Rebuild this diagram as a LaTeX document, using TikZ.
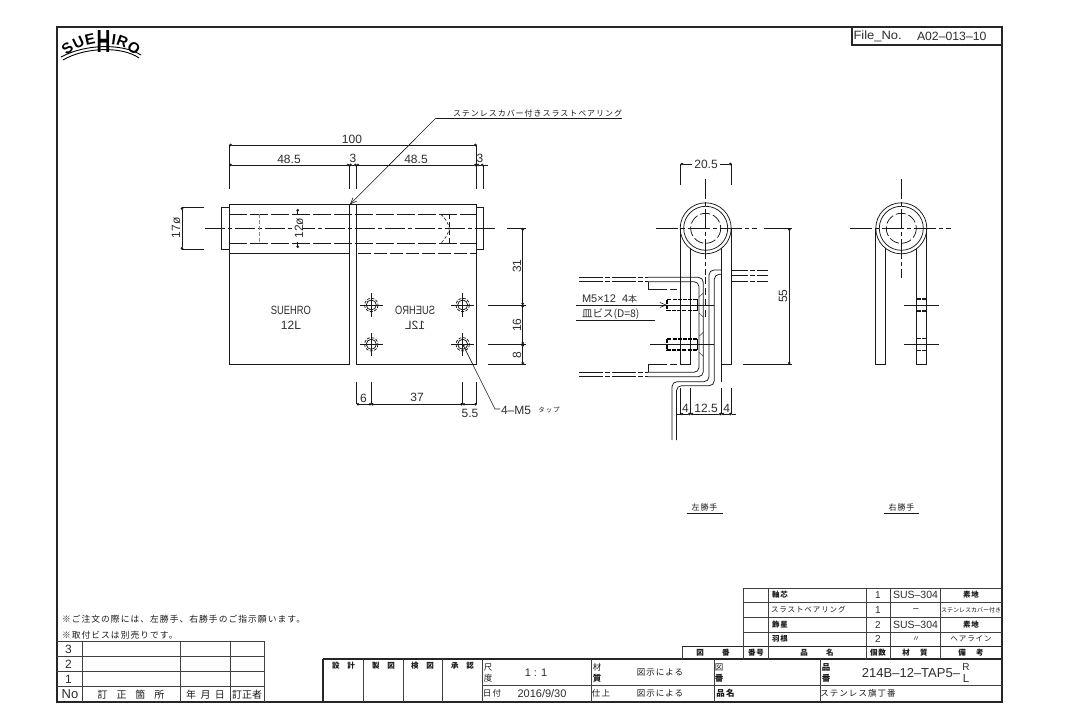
\documentclass[tikz,border=0pt]{standalone}
\usepackage{fontspec}
\setmainfont{Liberation Sans}
\newfontfamily\cjk[LetterSpace=12]{Noto Sans CJK JP}
\newfontfamily\cjkn{Noto Sans CJK JP}
\usetikzlibrary{arrows.meta}
\newcounter{lb}
\newcommand{\lab}[4][]{\stepcounter{lb}\node[txt,name=t\thelb,#1] at (#2) {#3#4};}
\newcommand{\dg}[3][]{\lab[dgt,#1]{#2}{}{#3}}
\newcommand{\jp}[3][]{\lab[jpt,#1]{#2}{\cjk}{#3}}
\newcommand{\jb}[3][]{\lab[jpt,#1]{#2}{\cjk\bfseries}{#3}}
\tikzset{
  txt/.style={inner sep=0pt,outer sep=0pt,text=black!82},
  dgt/.style={font=\fontsize{12}{12}\selectfont},
  jpt/.style={font=\fontsize{8}{9}\selectfont,text=black!90},
  logo/.style={text=black,font=\bfseries\fontsize{15}{15}\selectfont},
  ln/.style={line width=.75pt,black!90},
  frm/.style={line width=1.1pt,black!85},
  grid/.style={line width=.8pt,black!75},
  dsh/.style={ln,dash pattern=on 11pt off 3pt},
  sdsh/.style={ln,dash pattern=on 5pt off 3pt},
  ctr/.style={ln,dash pattern=on 20pt off 3pt on 4pt off 3pt},
  brk/.style={ln,dash pattern=on 24pt off 2pt on 5pt off 2pt},
  dim/.style={line width=.6pt,black!90},
  dimh/.style={dim,{Circle[length=2.6pt]}-{Circle[length=2.6pt]}},
  hv/.style={line width=1.7pt,black,dash pattern=on 4pt off 1.2pt}
}
\begin{document}
\begin{tikzpicture}[x=1pt,y=-1pt]
\useasboundingbox (0,0) rectangle (1076,727);
\fill[white] (0,0) rectangle (1076,727);
% frame
\draw[frm] (57,27) rectangle (1002,702);
\draw[frm] (852,27) rectangle (1002,45);
\dg[anchor=west,xscale=1.08]{853.5,36}{File\_No.}
\dg[anchor=west,xscale=1.02]{917,36}{A02–013–10}
% logo
\draw[line width=.9pt] (61,57) .. controls (85,44) and (122,43) .. (141,55);
\draw[line width=.9pt] (63,60) .. controls (85,47) and (122,46) .. (139,58);
\lab[logo,rotate=38]{67.5,48}{}{S}
\lab[logo,rotate=26]{78.5,42.5}{}{U}
\lab[logo,rotate=12]{90,39.5}{}{E}
\lab[logo,font=\bfseries\fontsize{32}{32}\selectfont,xscale=.6]{103.5,41.5}{}{H}
\lab[logo,rotate=-8]{114,39.5}{}{I}
\lab[logo,rotate=-20]{122.5,42}{}{R}
\lab[logo,rotate=-38]{134,48}{}{O}
% ---- front view: dimensions
\draw[dimh] (229.3,145)--(476.7,145);
\draw[dimh] (229.3,165)--(349.3,165);
\draw[dimh] (349.3,165)--(356.7,165);
\draw[dimh] (356.7,165)--(476.7,165);
\draw[dimh] (476.7,165)--(483.5,165);
\draw[dim] (483.5,165)--(488,165);
\foreach \x in {229.3,349.3,356.7,476.7,483.5} \draw[dim] (\x,165)--(\x,189);
\draw[dim] (229.3,145)--(229.3,165) (476.7,145)--(476.7,165);
\dg{352,139}{100}
\dg{289,159}{48.5}
\dg{353,158}{3}
\dg{416,159}{48.5}
\dg{480,158}{3}
% body
\draw[ln] (229.3,204.3) rectangle (349.3,253.3);
\draw[ln] (356.7,204.3)--(476.7,204.3)--(476.7,253.3);
\draw[sdsh,dash pattern=on 13pt off 3pt] (358,253.3)--(476.7,253.3);
\draw[ln] (349.3,204.3)--(356.7,204.3);
\draw[ln] (221.3,207.3) rectangle (229.3,249.7);
\draw[ln] (476.7,207.3) rectangle (483.5,249.7);
\draw[dsh,dash pattern=on 18pt off 3pt] (229.3,214.3)--(476.7,214.3);
\draw[dsh,dash pattern=on 18pt off 3pt] (229.3,243.3)--(476.7,243.3);
\draw[ctr] (205,228.3)--(497,228.3);
\draw[line width=.9pt,black!45,dash pattern=on 4pt off 2pt] (259,214.3)--(259,243.3);
\draw[sdsh,line width=.6pt] (449.3,214.3)--(449.3,243.3);
\draw[sdsh,line width=.6pt,dash pattern=on 3pt off 2pt] (441,214.3) .. controls (446,219) and (448.5,224) .. (449.3,228.3) .. controls (448.5,233) and (446,238) .. (441,243.3);
% plates
\draw[ln] (229.3,253.3)--(229.3,364.3)--(349.3,364.3)--(349.3,204.3);
\draw[ln] (356.7,204.3)--(356.7,364.3)--(476.7,364.3)--(476.7,253.3);
\dg[xscale=.78]{291,310}{SUEHRO}
\dg{291,325}{12L}
\lab[dgt,xscale=-.78]{415,310}{}{SUEHRO}
\lab[dgt,xscale=-1]{415,325}{}{12L}
% holes
\foreach \a/\b in {371.3/305,462.7/305,371.3/344.3,462.7/344.3}{
  \draw[ln] (\a,\b) circle[radius=5];
  \draw[ln,dash pattern=on 3pt off 1.5pt] (\a,\b) circle[radius=6.7];
  \draw[ln] (\a-11.5,\b)--(\a+11.5,\b) (\a,\b-11.5)--(\a,\b+11.5);
}
% 17, 12
\draw[dimh] (182,207.3)--(182,249.7);
\draw[dim] (182,207.3)--(204,207.3) (182,249.7)--(204,249.7);
\dg[rotate=90]{176,228}{17ø}
\draw[dimh] (297.7,209)--(297.7,248);
\dg[rotate=90,fill=white,inner xsep=3pt]{299,228.3}{12ø}
% 31 16 8
\draw[dimh] (522.7,228.3)--(522.7,305);
\draw[dimh] (522.7,305)--(522.7,344.3);
\draw[dimh] (522.7,344.3)--(522.7,364.3);
\draw[dim] (507,228.3)--(525.5,228.3);
\foreach \b in {305,344.3,364.3} \draw[dim] (488,\b)--(525.5,\b);
\dg[rotate=90]{517,266}{31}
\dg[rotate=90]{517,325}{16}
\dg[rotate=90]{517,355}{8}
% bottom dims
\foreach \x in {356.7,371.3,462.7,476.7} \draw[dim] (\x,382)--(\x,404.3);
\draw[dimh] (356.7,404.3)--(371.3,404.3);
\draw[dimh] (371.3,404.3)--(462.7,404.3);
\draw[dimh] (462.7,404.3)--(476.7,404.3);
\dg{363.5,398}{6}
\dg{417,397.5}{37}
\dg{470,413}{5.5}
% leaders
\coordinate (lda) at (350,204.3);
\coordinate (ldb) at (436,118);
\coordinate (ldc) at (622,118);
\draw[dim,-{Straight Barb[length=6pt,width=5pt]}] (ldb)--(lda);
\draw[dim] (ldb)--(ldc);
\jp[anchor=west]{453,113}{ステンレスカバー付きスラストベアリング}
\coordinate (lea) at (462.7,344.3);
\coordinate (leb) at (495,409);
\draw[dim,{Circle[length=2.6pt]}-] (lea)--(leb)--(500,409);
\dg[anchor=west]{501,410}{4–M5}
\lab[jpt,font=\fontsize{6.5}{7}\selectfont]{549,410}{\cjk}{タップ}
% ---- side view left-hand
\foreach \cx in {705.7,901.3}{
  \draw[ln] (\cx,228.3) circle[radius=25.5];
  \draw[ln] (\cx,228.3) circle[radius=22];
  \draw[ln,dash pattern=on 10pt off 3pt] (\cx,228.3) circle[radius=15];
}
\draw[ctr,dash pattern=on 22pt off 3pt on 4pt off 3pt] (656,228.3)--(757,228.3);
\draw[ctr] (705.7,179)--(705.7,275);
\draw[dsh,dash pattern=on 7pt off 4pt] (705.7,277)--(705.7,320);
\draw[dimh] (680.7,164)--(731.7,164);
\dg[fill=white,inner xsep=2pt]{706,164}{20.5}
\draw[dim] (680.7,164)--(680.7,185) (731.7,164)--(731.7,185);
% arms
\draw[ln] (680.7,228.3)--(680.7,364.3)--(690.7,364.3)--(690.7,248);
\draw[ln] (731.7,228.3)--(731.7,364.3)--(721.7,364.3);
\draw[ln] (721.7,248)--(721.7,381.7);
% left sheet
\draw[ln,rounded corners=5pt] (648,277.3)--(703.3,277.3)--(703.3,376.7)--(648,376.7);
\draw[ln,rounded corners=5pt] (648,281.7)--(699,281.7)--(699,372.3)--(648,372.3);
\foreach \b in {277.3,281.7,372.3,376.7} \draw[brk] (579,\b)--(648,\b);
% left tabs
\draw[ln] (648.3,281.7)--(648.3,289.3)--(660,289.3);
\draw[sdsh,dash pattern=on 7pt off 3pt] (660,289.3)--(680.7,289.3);
\draw[ln] (648.3,372.3)--(648.3,364.3)--(660,364.3);
\draw[sdsh,dash pattern=on 7pt off 3pt] (660,364.3)--(680.7,364.3);
% countersinks
\foreach \b in {305,344.3}{
  \draw[line width=.5pt,black!80] (703.3,\b-12)--(699,\b-8) (703.3,\b+12)--(699,\b+8);
  \draw[hv] (697.3,\b-5.5)--(666.7,\b-5.5)--(666.7,\b+5.5)--(697.3,\b+5.5);
  \draw[line width=1.4pt,black] (697.3,\b-5.5)--(697.3,\b+5.5);
}
\draw[dim] (650,344.3)--(714,344.3);
\draw[dim] (666.7,305)--(714,305);
% right sheet
\draw[ln,rounded corners=5pt] (721.7,270)--(709,270)--(709,381.7)--(672,381.7)--(672,440);
\draw[ln,rounded corners=5pt] (721.7,274.3)--(714.3,274.3)--(714.3,385.7)--(676.5,385.7)--(676.5,440);
\foreach \b in {270.7,275,281.7} \draw[brk,dash pattern=on 16pt off 2pt on 5pt off 2pt] (731.7,\b)--(768,\b);
% 4 12.5 4
\foreach \x in {680.7,690.7,721.7,731.7} \draw[dim] (\x,388)--(\x,414);
\draw[dim] (676,414)--(680.7,414);
\draw[dimh] (680.7,414)--(690.7,414);
\draw[dimh] (690.7,414)--(721.7,414);
\draw[dimh] (721.7,414)--(731.7,414);
\draw[dim] (731.7,414)--(735.7,414);
\dg{685.5,408}{4}
\dg{706,408}{12.5}
\dg{726.7,408}{4}
% 55
\draw[dimh] (789.3,228.3)--(789.3,364.3);
\draw[dim] (764,228.3)--(791.5,228.3) (743,364.3)--(791.5,364.3);
\dg[rotate=90]{783,296}{55}
% M5 note
\coordinate (ma) at (576,305);
\coordinate (mb) at (666.7,305);
\coordinate (mc) at (576,320);
\coordinate (md) at (655,320);
\draw[dim,-{Straight Barb[length=6pt,width=5pt]}] (ma)--(mb);
\draw[dim] (mc)--(md);
\lab[anchor=west,font=\fontsize{11}{11}\selectfont]{582,298.8}{}{M5×12\ \ 4{\cjkn\fontsize{9}{9}\selectfont 本}}
\lab[anchor=west,font=\fontsize{10.5}{11}\selectfont]{582,314}{\cjkn}{皿ビス(D=8)}
% ---- side view right-hand
\draw[ctr,dash pattern=on 22pt off 3pt on 4pt off 3pt] (850,228.3)--(951,228.3);
\draw[ctr] (901.3,179)--(901.3,278);
\draw[ln] (875.8,228.3)--(875.8,364.3)--(885.7,364.3)--(885.7,248);
\draw[ln] (926.8,228.3)--(926.8,364.3)--(916.3,364.3)--(916.3,248);
\foreach \b in {305,344.3}{
  \draw[dim] (904,\b)--(939,\b);
  \draw[line width=1.5pt,black!90] (916.3,\b-6)--(926.8,\b-6) (916.3,\b+6)--(926.8,\b+6);
  \draw[line width=1.2pt,white] (920.8,\b-6)--(922.3,\b-6) (920.8,\b+6)--(922.3,\b+6);
}
\jp{704.5,507}{左勝手}
\draw[dim] (687,513)--(723,513);
\jp{901.5,507}{右勝手}
\draw[dim] (884,513)--(919,513);
% ---- notes
\lab[jpt,anchor=west,font=\fontsize{8.75}{10}\selectfont]{62,619}{\cjk}{※ご注文の際には、左勝手、右勝手のご指示願います。}
\lab[jpt,anchor=west,font=\fontsize{8.75}{10}\selectfont]{62,635}{\cjk}{※取付ビスは別売りです。}
% ---- revision table
\draw[grid] (57,641.7)--(264.3,641.7)--(264.3,702);
\draw[grid] (57,656.7)--(264.3,656.7) (57,671.7)--(264.3,671.7) (57,686.7)--(264.3,686.7);
\foreach \x in {82.3,180.7,230} \draw[grid] (\x,641.7)--(\x,702);
\dg{68.5,649.5}{3}
\dg{68.5,664.5}{2}
\dg{68.5,679}{1}
\dg[font=\fontsize{13}{13}\selectfont]{70,694.5}{No}
\lab[jpt,font=\fontsize{10}{11}\selectfont]{131,694.5}{\cjkn}{訂\ \ \ \ 正\ \ \ \ 箇\ \ \ \ 所}
\lab[jpt,font=\fontsize{10}{11}\selectfont]{205.5,694.5}{\cjkn}{年\ \ 月\ \ 日}
\lab[jpt,font=\fontsize{10}{11}\selectfont]{247,694.5}{\cjkn}{訂正者}
% ---- BOM
\foreach \b in {588.3,602.3,617.3,632.3,646.7} \draw[grid] (743.3,\b)--(1002,\b);
\draw[frm] (682,646.7)--(1002,646.7);
\draw[frm] (323,659)--(1002,659);
\draw[grid] (682,646.7)--(682,659);
\foreach \x in {743.3,768.3,866.7,890,940} \draw[grid] (\x,588.3)--(\x,659);
\def\fs{\fontsize{7.5}{8}\selectfont}
\jb[anchor=west,font=\fs]{772,595}{軸芯}
\jp[anchor=west,font=\fs]{771,610}{スラストベアリング}
\jb[anchor=west,font=\fs]{772,625}{飾星}
\jb[anchor=west,font=\fs]{772,639}{羽根}
\dg[font=\fontsize{10}{10}\selectfont]{878,595}{1}
\dg[font=\fontsize{10}{10}\selectfont]{878,610}{1}
\dg[font=\fontsize{10}{10}\selectfont]{878,625}{2}
\dg[font=\fontsize{10}{10}\selectfont]{878,639}{2}
\dg[font=\fontsize{10.5}{11}\selectfont]{915.5,595}{SUS–304}
\dg[font=\fontsize{10}{10}\selectfont]{916,610}{–}
\dg[font=\fontsize{10.5}{11}\selectfont]{915.5,625}{SUS–304}
\lab[jpt,font=\fs]{916,639}{\cjkn}{〃}
\jb[font=\fs]{971,595}{素地}
\lab[jpt,font=\fontsize{6}{6}\selectfont]{971,610}{\cjkn}{ステンレスカバー付き}
\jb[font=\fs]{971,625}{素地}
\jp[font=\fs]{971,639}{ヘアライン}
\jb[font=\fs]{713,653}{図\ \ \ \ \ \ \ 番}
\jb[font=\fs]{756,653}{番号}
\jb[font=\fs]{817,653}{品\ \ \ \ \ \ \ 名}
\jb[font=\fs]{878,653}{個数}
\jb[font=\fs]{915,653}{材\ \ \ \ 質}
\jb[font=\fs]{971,653}{備\ \ \ \ 考}
% ---- title block
\draw[frm] (323,659)--(323,702);
\foreach \x in {363,403,442,482,591,714,820.7} \draw[grid] (\x,659)--(\x,702);
\draw[grid] (482,685.5)--(1002,685.5);
\jb[font=\fs]{343.5,666}{設\ \ \ 計}
\jb[font=\fs]{383.5,666}{製\ \ \ 図}
\jb[font=\fs]{422.5,666}{検\ \ \ 図}
\jb[font=\fs]{462.5,666}{承\ \ \ 認}
\def\ts{\fontsize{8.5}{9}\selectfont}
\jp[font=\ts]{488,667}{尺}
\jp[font=\ts]{488,678}{度}
\dg[font=\fontsize{11}{11}\selectfont]{536,672.5}{1 : 1}
\jp[font=\ts]{492,693.5}{日付}
\dg[font=\fontsize{11}{11}\selectfont]{542,693.5}{2016/9/30}
\jp[font=\ts]{597,667}{材}
\jb[font=\ts]{597,678}{質}
\jp[font=\ts]{660,672.5}{図示による}
\jp[font=\ts]{601,693.5}{仕上}
\jp[font=\ts]{660,693.5}{図示による}
\jp[font=\ts]{719,667}{図}
\jb[font=\ts]{719,678}{番}
\jb[font=\ts]{826,667}{品}
\jb[font=\ts]{826,678}{番}
\jb[font=\ts]{725.5,693.5}{品名}
\jp[font=\ts]{858,693.5}{ステンレス旗丁番}
\dg[font=\fontsize{13}{13}\selectfont]{911,673.5}{214B–12–TAP5–}
\dg[font=\fontsize{10}{10}\selectfont]{966,667.5}{R}
\dg[font=\fontsize{11.5}{12}\selectfont]{966,679}{L}
\end{tikzpicture}
\end{document}
